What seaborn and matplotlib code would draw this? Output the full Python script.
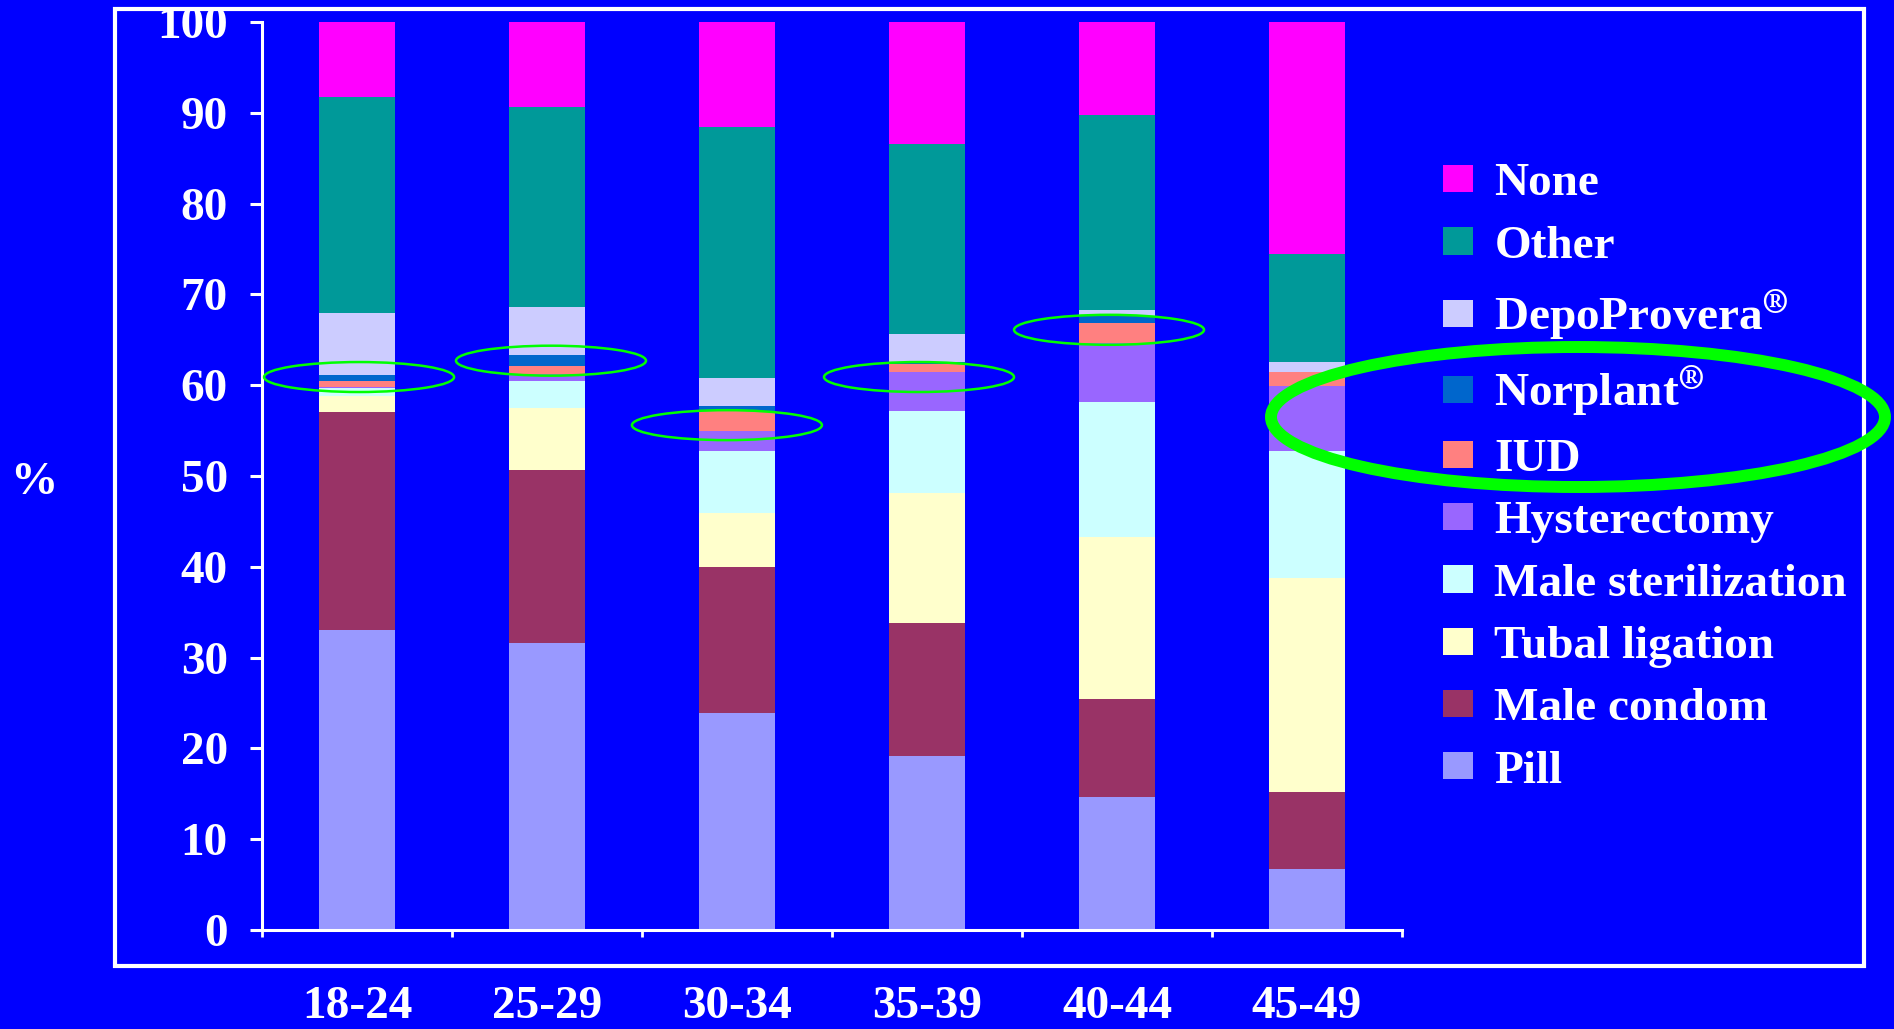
import matplotlib
matplotlib.use("Agg")
import matplotlib.pyplot as plt
import seaborn as sns
import pandas as pd
import numpy as np
from matplotlib.patches import Rectangle, Ellipse, Patch

# ---------------- data (percent of women, by age group) ----------------
ages = ["18-24", "25-29", "30-34", "35-39", "40-44", "45-49"]
pill        = [33.0, 31.65, 23.9, 19.15, 14.6, 6.75]
male_condom = [24.1, 19.0, 16.1, 14.65, 10.85, 8.5]
tubal       = [1.7, 6.85, 5.9, 14.35, 17.8, 23.5]
male_ster   = [0.85, 3.0, 6.9, 9.0, 14.85, 14.05]
hysterect   = [0.15, 0.7, 2.2, 4.3, 6.6, 7.15]
iud         = [0.7, 0.9, 2.2, 0.85, 2.1, 1.55]
norplant    = [0.6, 1.2, 0.5, 0.2, 0.8, 0.0]
depo        = [6.9, 5.3, 3.1, 3.1, 0.7, 1.0]
other       = [23.7, 22.0, 27.6, 21.0, 21.5, 12.0]
none_       = [8.3, 9.4, 11.6, 13.4, 10.2, 25.5]

methods = ["Pill", "Male condom", "Tubal ligation", "Male sterilization",
           "Hysterectomy", "IUD", "Norplant", "DepoProvera", "Other", "None"]
legend_labels = ["Pill", "Male condom", "Tubal ligation", "Male sterilization",
                 "Hysterectomy", "IUD", "Norplant$^{\u00ae}$", "DepoProvera$^{\u00ae}$",
                 "Other", "None"]
colors = ["#9999FF", "#993366", "#FFFFCC", "#CCFFFF", "#9966FF",
          "#FF8080", "#0066CC", "#CCCCFF", "#009999", "#FF00FF"]
series = [pill, male_condom, tubal, male_ster, hysterect, iud, norplant, depo, other, none_]

rows = []
for m, vals in zip(methods, series):
    for a, v in zip(ages, vals):
        rows.append({"age": a, "method": m, "value": v})
df = pd.DataFrame(rows)
df["method"] = pd.Categorical(df["method"], methods, ordered=True)
df = df.sort_values(["age", "method"])
df["cum"] = df.groupby("age")["value"].cumsum()

# ---------------- style ----------------
sns.set_theme(style="white")
plt.rcParams["font.family"] = ["Liberation Serif", "DejaVu Serif"]
plt.rcParams["font.weight"] = "bold"
plt.rcParams["mathtext.fontset"] = "stix"

BG = "#0000FF"
W, H = 1894, 1029
fig = plt.figure(figsize=(W / 100, H / 100), dpi=100, facecolor=BG)
ax = fig.add_axes([262 / W, 1 - 930 / H, 1140 / W, 908 / H])
ax.set_facecolor(BG)

# stacked bars: draw cumulative heights from top category down
for m, c in reversed(list(zip(methods, colors))):
    sub = df[df["method"] == m]
    sns.barplot(data=sub, x="age", y="cum", order=ages, color=c, saturation=1,
                width=0.405, linewidth=0, errorbar=None, ax=ax)

ax.set_xlim(-0.5, 5.5)
ax.set_ylim(0, 100)
ax.set_yticks(np.arange(0, 101, 10))
ax.set_xlabel("")
ax.set_ylabel("")

for s in ["top", "right"]:
    ax.spines[s].set_visible(False)
for s in ["left", "bottom"]:
    ax.spines[s].set_color("white")
    ax.spines[s].set_linewidth(2.2)

ax.tick_params(axis="y", colors="white", length=8.6, width=2.2, pad=16, labelsize=34, left=True)
ax.tick_params(axis="x", which="major", length=0, pad=40, labelsize=34, labelcolor="white")
ax.set_xticks(np.arange(-0.5, 6, 1), minor=True)
ax.tick_params(axis="x", which="minor", length=5, width=2, color="white", bottom=True)
for lab in ax.get_xticklabels() + ax.get_yticklabels():
    lab.set_fontweight("bold")

# "%" axis label
fig.text(34 / W, 1 - 483 / H, "%", color="white", fontsize=34, fontweight="bold",
         ha="center", va="center")

# white frame around the plot
fig.add_artist(Rectangle((115 / W, 1 - 966 / H), (1864 - 115) / W, (966 - 8.5) / H,
                         transform=fig.transFigure, fill=False, ec="white", lw=3))

# legend (top = None)
handles = [Patch(facecolor=c, edgecolor="none") for c in colors][::-1]
labels = legend_labels[::-1]
leg = ax.legend(handles, labels, loc="center left", bbox_to_anchor=(1443 / W, 1 - 478 / H),
                bbox_transform=fig.transFigure, frameon=False, fontsize=34,
                handlelength=0.64, handleheight=0.51, handletextpad=0.45,
                labelspacing=0.43, borderpad=0, borderaxespad=0)
for t in leg.get_texts():
    t.set_color("white")
    t.set_fontweight("bold")

# green highlight ellipses
green = "#00FF00"
small = [(0.011, 60.9), (1.021, 62.7), (1.947, 55.6), (2.958, 60.9), (3.958, 66.1)]
for (cx, cy) in small:
    ax.add_patch(Ellipse((cx, cy), 1.0, 3.3, fill=False, ec=green, lw=1.8,
                         clip_on=False, zorder=5))
fig.add_artist(Ellipse((1578 / W, 1 - 417 / H), 614 / W, 140 / H, transform=fig.transFigure,
                       fill=False, ec=green, lw=8.6, zorder=10))

fig.savefig("out.png", dpi=100, facecolor=BG)
